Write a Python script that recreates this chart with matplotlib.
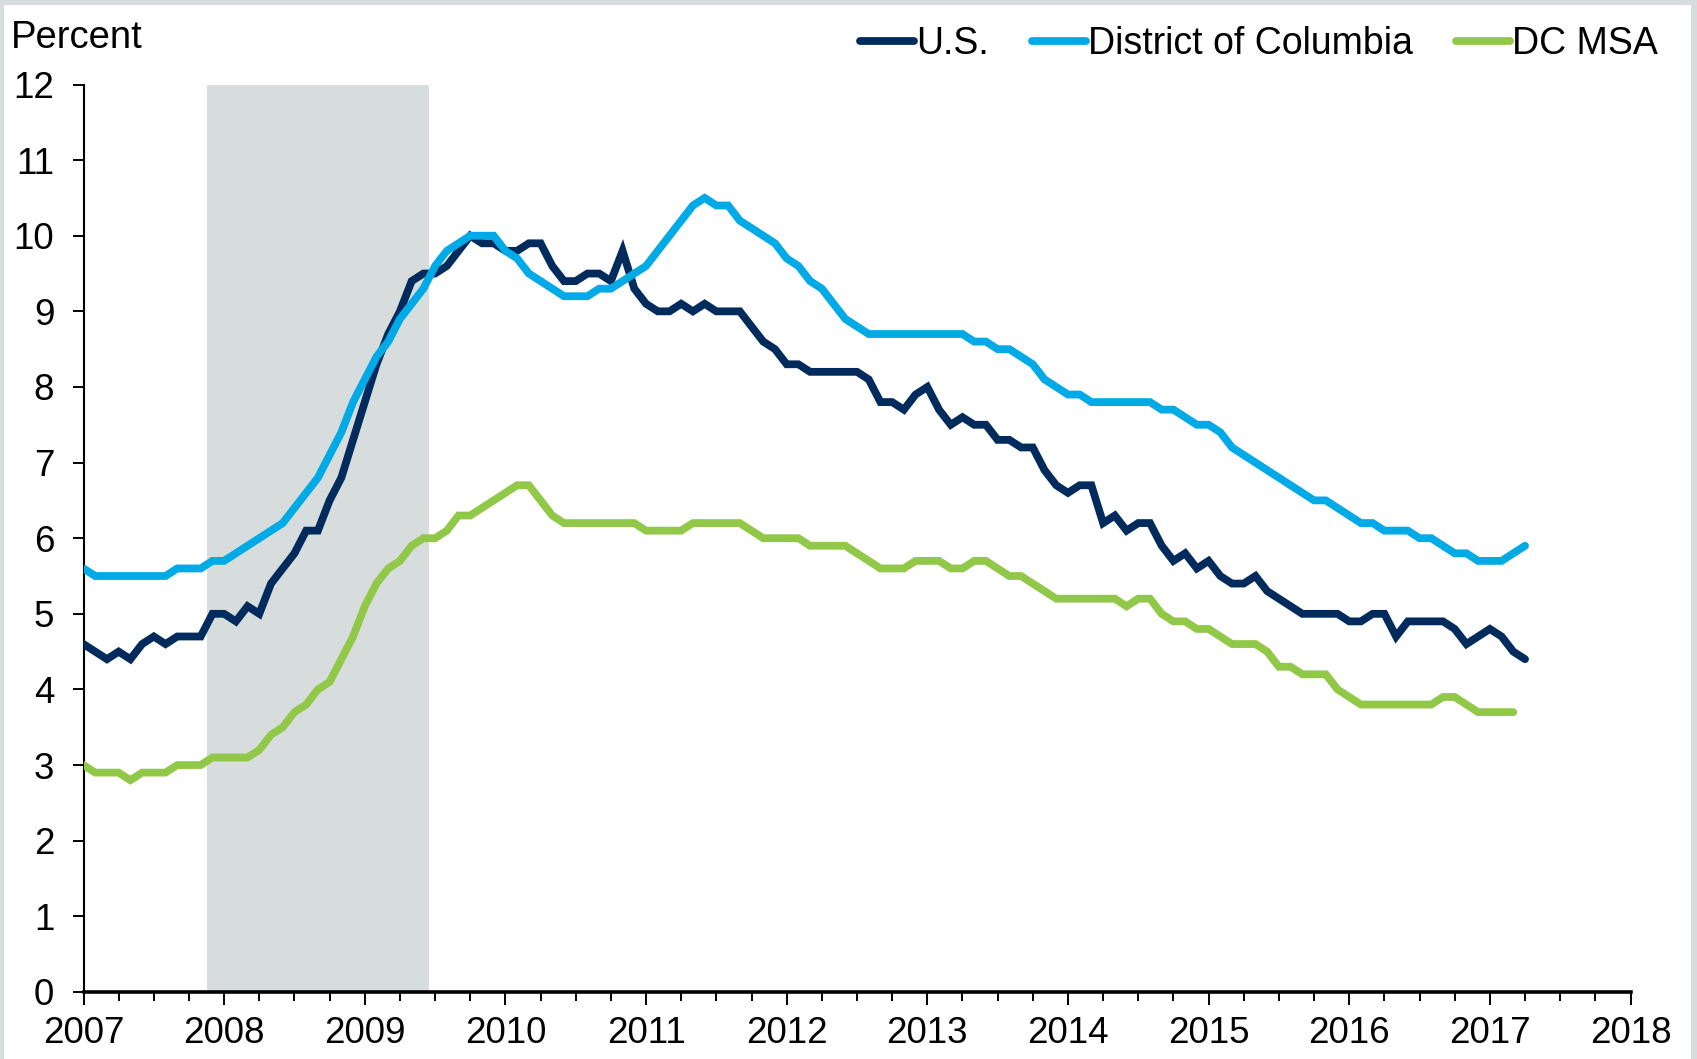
import numpy as np
import matplotlib
matplotlib.use("Agg")
import matplotlib.pyplot as plt
from matplotlib.patches import Rectangle

plt.rcParams['font.family'] = ['Liberation Sans', 'DejaVu Sans']

# monthly unemployment rate, Jan 2007 onward (percent)
us = [4.6, 4.5, 4.4, 4.5, 4.4, 4.6, 4.7, 4.6, 4.7, 4.7, 4.7, 5.0,   # 2007
      5.0, 4.9, 5.1, 5.0, 5.4, 5.6, 5.8, 6.1, 6.1, 6.5, 6.8, 7.3,   # 2008
      7.8, 8.3, 8.7, 9.0, 9.4, 9.5, 9.5, 9.6, 9.8, 10.0, 9.9, 9.9,  # 2009
      9.8, 9.8, 9.9, 9.9, 9.6, 9.4, 9.4, 9.5, 9.5, 9.4, 9.8, 9.3,   # 2010
      9.1, 9.0, 9.0, 9.1, 9.0, 9.1, 9.0, 9.0, 9.0, 8.8, 8.6, 8.5,   # 2011
      8.3, 8.3, 8.2, 8.2, 8.2, 8.2, 8.2, 8.1, 7.8, 7.8, 7.7, 7.9,   # 2012
      8.0, 7.7, 7.5, 7.6, 7.5, 7.5, 7.3, 7.3, 7.2, 7.2, 6.9, 6.7,   # 2013
      6.6, 6.7, 6.7, 6.2, 6.3, 6.1, 6.2, 6.2, 5.9, 5.7, 5.8, 5.6,   # 2014
      5.7, 5.5, 5.4, 5.4, 5.5, 5.3, 5.2, 5.1, 5.0, 5.0, 5.0, 5.0,   # 2015
      4.9, 4.9, 5.0, 5.0, 4.7, 4.9, 4.9, 4.9, 4.9, 4.8, 4.6, 4.7,   # 2016
      4.8, 4.7, 4.5, 4.4]                                           # 2017

dc = [5.6, 5.5, 5.5, 5.5, 5.5, 5.5, 5.5, 5.5, 5.6, 5.6, 5.6, 5.7,
      5.7, 5.8, 5.9, 6.0, 6.1, 6.2, 6.4, 6.6, 6.8, 7.1, 7.4, 7.8,
      8.1, 8.4, 8.6, 8.9, 9.1, 9.3, 9.6, 9.8, 9.9, 10.0, 10.0, 10.0,
      9.8, 9.7, 9.5, 9.4, 9.3, 9.2, 9.2, 9.2, 9.3, 9.3, 9.4, 9.5,
      9.6, 9.8, 10.0, 10.2, 10.4, 10.5, 10.4, 10.4, 10.2, 10.1, 10.0, 9.9,
      9.7, 9.6, 9.4, 9.3, 9.1, 8.9, 8.8, 8.7, 8.7, 8.7, 8.7, 8.7,
      8.7, 8.7, 8.7, 8.7, 8.6, 8.6, 8.5, 8.5, 8.4, 8.3, 8.1, 8.0,
      7.9, 7.9, 7.8, 7.8, 7.8, 7.8, 7.8, 7.8, 7.7, 7.7, 7.6, 7.5,
      7.5, 7.4, 7.2, 7.1, 7.0, 6.9, 6.8, 6.7, 6.6, 6.5, 6.5, 6.4,
      6.3, 6.2, 6.2, 6.1, 6.1, 6.1, 6.0, 6.0, 5.9, 5.8, 5.8, 5.7,
      5.7, 5.7, 5.8, 5.9]

msa = [3.0, 2.9, 2.9, 2.9, 2.8, 2.9, 2.9, 2.9, 3.0, 3.0, 3.0, 3.1,
       3.1, 3.1, 3.1, 3.2, 3.4, 3.5, 3.7, 3.8, 4.0, 4.1, 4.4, 4.7,
       5.1, 5.4, 5.6, 5.7, 5.9, 6.0, 6.0, 6.1, 6.3, 6.3, 6.4, 6.5,
       6.6, 6.7, 6.7, 6.5, 6.3, 6.2, 6.2, 6.2, 6.2, 6.2, 6.2, 6.2,
       6.1, 6.1, 6.1, 6.1, 6.2, 6.2, 6.2, 6.2, 6.2, 6.1, 6.0, 6.0,
       6.0, 6.0, 5.9, 5.9, 5.9, 5.9, 5.8, 5.7, 5.6, 5.6, 5.6, 5.7,
       5.7, 5.7, 5.6, 5.6, 5.7, 5.7, 5.6, 5.5, 5.5, 5.4, 5.3, 5.2,
       5.2, 5.2, 5.2, 5.2, 5.2, 5.1, 5.2, 5.2, 5.0, 4.9, 4.9, 4.8,
       4.8, 4.7, 4.6, 4.6, 4.6, 4.5, 4.3, 4.3, 4.2, 4.2, 4.2, 4.0,
       3.9, 3.8, 3.8, 3.8, 3.8, 3.8, 3.8, 3.8, 3.9, 3.9, 3.8, 3.7,
       3.7, 3.7, 3.7]

labels = ["U.S.", "District of Columbia", "DC MSA"]
colors = ["#002b5c", "#00aae7", "#92c848"]
years = list(range(2007, 2019))
rec_start, rec_end = 11, 29   # Dec 2007 - Jun 2009, month index from Jan 2007

W, H = 1697, 1059
fig = plt.figure(figsize=(W / 100, H / 100), dpi=100, facecolor="#d7dddd")
fig.patches.append(Rectangle((4 / W, 0), (1691 - 4) / W, 1 - 5 / H,
                             transform=fig.transFigure, facecolor="white",
                             edgecolor="none", zorder=-10))

ax = fig.add_axes([83.5 / W, 1 - 991.9 / H, (1630.5 - 83.5) / W, (991.9 - 84.5) / H])
ax.set_facecolor("none")

ax.axvspan(2007 + (rec_start - 0.5) / 12, 2007 + (rec_end + 0.5) / 12,
           color="#d7dcdc", lw=0, zorder=1)

for vals, lab, c in zip([us, dc, msa], labels, colors):
    x = 2007 + np.arange(len(vals)) / 12
    ax.plot(x, vals, color=c, lw=5.6, label=lab, solid_capstyle="round",
            solid_joinstyle="miter", zorder=3)

ax.set_xlim(2007, 2018)
ax.set_ylim(0, 12)
ax.set_xticks(years)
ax.set_xticks(np.arange(2007, 2018.01, 0.25), minor=True)
ax.set_yticks(range(0, 13))

for s in ["top", "right"]:
    ax.spines[s].set_visible(False)
ax.spines["left"].set_linewidth(1.5)
ax.spines["bottom"].set_linewidth(2.6)
ax.spines["bottom"].set_zorder(4)

ax.tick_params(axis="y", direction="out", length=8, width=1.4, pad=13, labelsize=26.5)
ax.tick_params(axis="x", which="major", direction="out", length=9, width=1.4, pad=8,
               labelsize=26.5)
ax.tick_params(axis="x", which="minor", direction="out", length=6.5, width=1.4)

fig.text(11 / W, 1 - 38 / H, "Percent", fontsize=27.5, ha="left", va="center")

ax.legend(loc="center right", bbox_to_anchor=(1658 / W, 1 - 44 / H),
          bbox_transform=fig.transFigure, ncol=3, frameon=False, fontsize=27,
          handlelength=1.45, handletextpad=0.05, columnspacing=1.15,
          borderpad=0, borderaxespad=0)

fig.savefig("out.png", dpi=100, facecolor=fig.get_facecolor())
